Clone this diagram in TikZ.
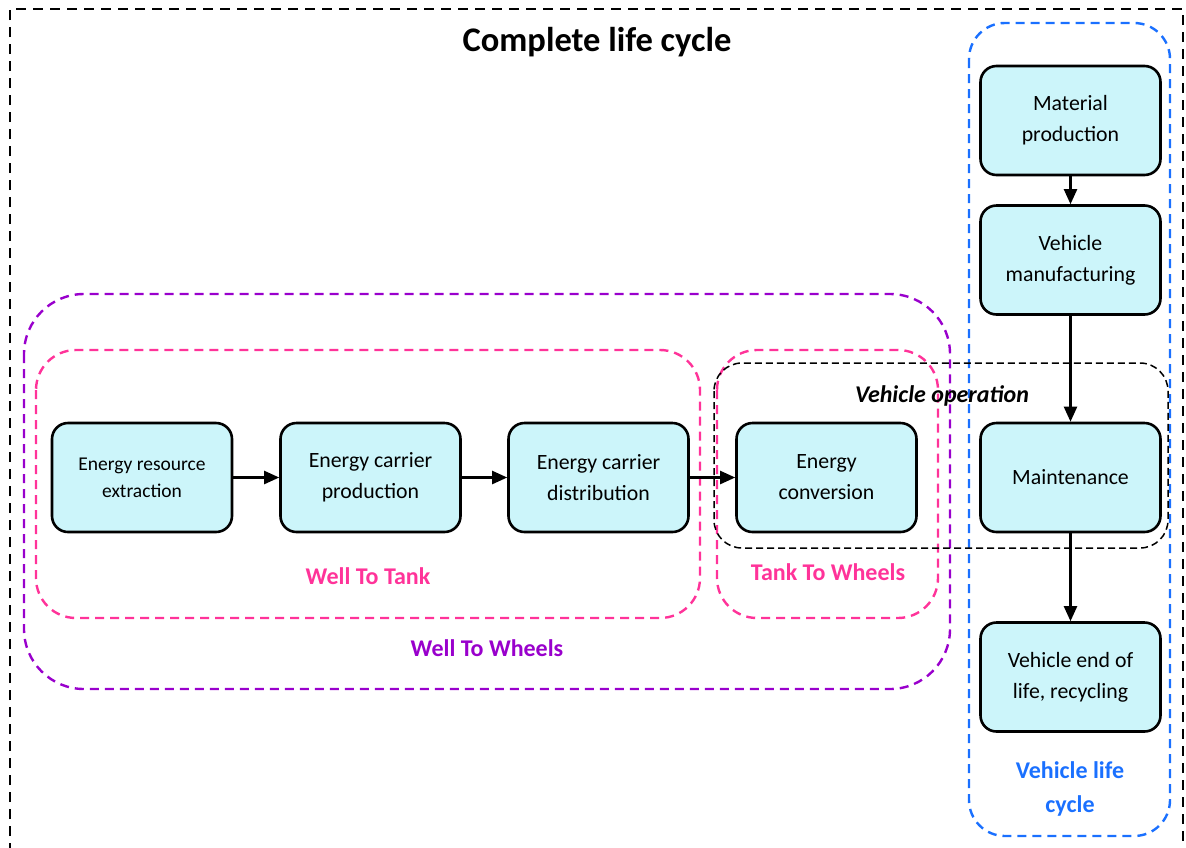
\documentclass[tikz,border=0pt]{standalone}
\usepackage{fontspec}
\setmainfont{Carlito}
\usetikzlibrary{arrows.meta}
\definecolor{boxfill}{RGB}{204,245,250}
\definecolor{vblue}{RGB}{26,112,255}
\definecolor{wpurple}{RGB}{153,0,204}
\definecolor{wpink}{RGB}{255,51,153}
\tikzset{
  stage/.style={draw=black, line width=2.6pt, fill=boxfill, rounded corners=16pt,
    minimum width=180pt, minimum height=109pt, align=center, inner sep=2pt,
    font=\fontsize{21.8}{31}\selectfont},
  smallstage/.style={stage, font=\fontsize{19.5}{27}\selectfont},
  flow/.style={line width=2.2pt, -{Triangle[length=15pt,width=13pt]}},
  grp/.style={line width=2.4pt, dash pattern=on 9pt off 6pt},
  lbl/.style={font=\bfseries\fontsize{24}{34}\selectfont, align=center},
}
\begin{document}
\begin{tikzpicture}[x=1pt,y=-1pt]
\useasboundingbox (0,0) rectangle (1186,847);
% outer frame
\draw[line width=2.6pt, dash pattern=on 10pt off 7pt] (10,870) -- (10,9) -- (1183,9) -- (1183,870);
\node[font=\bfseries\fontsize{34.5}{40}\selectfont] (title) at (597,42) {Complete life cycle};
% groups
\draw[grp, vblue] (969,23) [rounded corners=36pt] rectangle (1170,836);
\draw[grp, wpurple] (24,294) [rounded corners=60pt] rectangle (950,689);
\draw[grp, wpink] (36,350) [rounded corners=40pt] rectangle (700,618);
\draw[grp, wpink] (717,350) [rounded corners=40pt] rectangle (938,618);
\draw[line width=1.5pt, dash pattern=on 7pt off 4pt] (714,363) [rounded corners=28pt] rectangle (1168,548);
% labels
\node[lbl, text=wpink] (wtt) at (368,576) {Well To Tank};
\node[lbl, text=wpink] (ttw) at (828,572) {Tank To Wheels};
\node[lbl, text=wpurple] (wtw) at (487,648) {Well To Wheels};
\node[font=\bfseries\itshape\fontsize{24}{28}\selectfont] (vop) at (942,396) {Vehicle operation};
\node[lbl, text=vblue] (vlc) at (1070,789) {Vehicle life\\cycle};
% stages
\node[smallstage] (ext) at (142,477.5) {Energy resource\\extraction};
\node[stage] (prod) at (370.5,477.5) {Energy carrier\\production};
\node[stage] (dist) at (598.5,477.5) {Energy carrier\\distribution};
\node[stage] (conv) at (826.5,477.5) {Energy\\conversion};
\node[stage] (mat) at (1070.5,120.5) {Material\\production};
\node[stage] (manu) at (1070.5,260) {Vehicle\\manufacturing};
\node[stage] (maint) at (1070.5,477.5) {Maintenance};
\node[stage] (eol) at (1070.5,677) {Vehicle end of\\life, recycling};
% connectors
\draw[flow] (ext) -- (prod);
\draw[flow] (prod) -- (dist);
\draw[flow] (dist) -- (conv);
\draw[flow] (mat) -- (manu);
\draw[flow] (manu) -- (maint);
\draw[flow] (maint) -- (eol);
\end{tikzpicture}
\end{document}
